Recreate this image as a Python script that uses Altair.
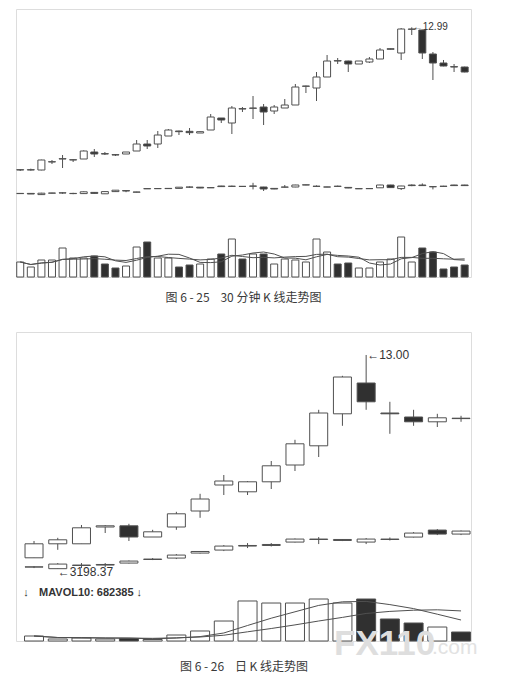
import altair as alt
import pandas as pd

# ---------------- Figure 6-25 : 30-minute K line ----------------
f1_open = [8.71, 8.71, 8.71, 8.95, 9.04, 9.01, 9.04, 9.25, 9.20, 9.17, 9.19, 9.28, 9.49, 9.49, 9.73,
           9.88, 9.87, 9.82, 9.91, 10.27, 10.12, 10.55, 10.56, 10.60, 10.48, 10.57, 10.66, 11.22, 11.17,
           11.50, 11.99, 11.98, 11.89, 11.95, 12.04, 12.33, 12.22, 12.93, 12.91, 12.19, 11.92, 11.81, 11.80]
f1_high = [8.74, 8.75, 9.02, 9.01, 9.16, 9.04, 9.30, 9.34, 9.25, 9.19, 9.25, 9.61, 9.61, 9.88, 9.94,
           9.89, 9.97, 9.87, 10.39, 10.27, 10.63, 10.60, 10.93, 10.69, 10.66, 10.84, 11.29, 11.24, 11.65,
           12.16, 12.07, 11.99, 11.98, 12.10, 12.37, 12.36, 12.97, 12.99, 12.92, 12.25, 12.01, 11.89, 11.81]
f1_low = [8.68, 8.69, 8.70, 8.89, 8.77, 8.95, 9.04, 9.10, 9.16, 9.13, 9.19, 9.28, 9.34, 9.37, 9.73,
          9.76, 9.76, 9.82, 9.91, 10.12, 9.79, 10.45, 10.24, 10.06, 10.39, 10.57, 10.66, 11.02, 10.78,
          11.50, 11.89, 11.65, 11.89, 11.92, 12.04, 12.32, 12.01, 12.76, 12.04, 11.41, 11.82, 11.65, 11.64]
f1_close = [8.72, 8.72, 9.01, 8.96, 9.05, 9.02, 9.28, 9.19, 9.19, 9.16, 9.25, 9.49, 9.43, 9.76, 9.91,
            9.86, 9.83, 9.86, 10.30, 10.21, 10.57, 10.54, 10.57, 10.45, 10.60, 10.66, 11.20, 11.23, 11.50,
            11.98, 11.98, 11.89, 11.98, 12.04, 12.31, 12.35, 12.94, 12.94, 12.22, 11.92, 11.83, 11.80, 11.65]
f1_iopen = [3347, 3348, 3342, 3349, 3350, 3347, 3347, 3353, 3346, 3357, 3362, 3354, 3371, 3372, 3372,
            3373, 3379, 3379, 3376, 3385, 3383, 3383, 3385, 3380, 3373, 3379, 3380, 3390, 3383, 3380,
            3383, 3378, 3371, 3372, 3376, 3390, 3372, 3390, 3390, 3381, 3383, 3390, 3390]
f1_ihigh = [3349, 3349, 3351, 3351, 3354, 3351, 3358, 3354, 3358, 3365, 3362, 3356, 3373, 3373, 3373,
            3380, 3383, 3380, 3377, 3386, 3387, 3384, 3401, 3381, 3374, 3390, 3391, 3392, 3388, 3381,
            3387, 3379, 3372, 3373, 3391, 3391, 3386, 3393, 3398, 3383, 3386, 3391, 3391]
f1_ilow = [3346, 3345, 3341, 3348, 3346, 3344, 3345, 3347, 3345, 3356, 3354, 3353, 3370, 3370, 3370,
           3372, 3376, 3374, 3375, 3381, 3380, 3382, 3368, 3360, 3369, 3377, 3379, 3389, 3380, 3379,
           3380, 3374, 3370, 3370, 3375, 3376, 3365, 3384, 3385, 3368, 3382, 3386, 3386]
f1_iclose = [3348, 3345, 3349, 3350, 3351, 3348, 3356, 3348, 3357, 3364, 3360, 3355, 3372, 3372, 3373,
             3379, 3380, 3375, 3377, 3382, 3384, 3383, 3384, 3370, 3370, 3380, 3390, 3391, 3384, 3380,
             3384, 3375, 3372, 3372, 3390, 3377, 3385, 3387, 3387, 3382, 3384, 3387, 3387]
f1_vol = [15000, 10000, 17000, 17000, 29000, 19000, 19000, 21000, 13000, 9000, 11000, 30000, 35000,
          19000, 19000, 10000, 12000, 13000, 18000, 23000, 38000, 18000, 23000, 23000, 13000, 18000,
          17000, 15000, 38000, 25000, 13000, 14000, 9000, 9000, 15000, 18000, 40000, 15000, 29000,
          25000, 8000, 10000, 12000]

# ---------------- Figure 6-26 : daily K line ----------------
f2_open = [7.93, 8.28, 8.28, 8.70, 8.73, 8.45, 8.70, 9.10, 9.75, 9.58, 9.83, 10.25, 10.73, 11.53,
           12.30, 11.55, 11.45, 11.33, 11.42]
f2_high = [8.35, 8.43, 8.75, 8.75, 8.78, 8.63, 9.08, 9.53, 10.00, 9.85, 10.35, 10.88, 11.63, 12.48,
           13.00, 11.83, 11.63, 11.53, 11.48]
f2_low = [7.93, 8.13, 8.28, 8.55, 8.35, 8.45, 8.63, 8.93, 9.50, 9.50, 9.65, 10.10, 10.45, 11.23,
          11.63, 11.03, 11.23, 11.20, 11.33]
f2_close = [8.28, 8.38, 8.68, 8.73, 8.45, 8.58, 9.03, 9.40, 9.85, 9.83, 10.23, 10.78, 11.55, 12.45,
            11.83, 11.53, 11.33, 11.43, 11.41]
f2_iopen = [3208, 3200, 3216, 3218, 3228, 3246, 3253, 3278, 3293, 3313, 3316, 3333, 3346, 3341, 3333,
            3346, 3358, 3393, 3373]
f2_ihigh = [3213, 3228, 3228, 3228, 3241, 3253, 3273, 3288, 3318, 3328, 3328, 3351, 3358, 3348, 3353,
            3356, 3383, 3398, 3391]
f2_ilow = [3203, 3198.37, 3203, 3208, 3226, 3243, 3248, 3276, 3288, 3303, 3311, 3331, 3323, 3338, 3323,
           3341, 3356, 3368, 3368]
f2_iclose = [3209, 3223, 3218, 3221, 3238, 3248, 3268, 3286, 3313, 3316, 3321, 3348, 3348, 3346, 3348,
             3348, 3378, 3373, 3388]
f2_vol = [113000, 45000, 68000, 45000, 57000, 34000, 136000, 227000, 453000, 907000, 861000, 861000,
          952000, 861000, 952000, 499000, 408000, 317000, 204000]

NB = "\u00a0"
caption1 = "图 6 - 25" + NB * 4 + "30 分钟 K 线走势图"
caption2 = "图 6 - 26" + NB * 4 + "日 K 线走势图"
mavol_text = "MAVOL10: 682385 ↓"
watermark = ["FX110", ".com"]

INK = "#505050"
DARK = "#303030"
FONT = "Liberation Sans"
CJK = "Noto Sans CJK SC"


def frame(o, h, l, c, io, ih, il, ic, v):
    return pd.DataFrame({"idx": list(range(len(o))), "open": o, "high": h, "low": l, "close": c,
                         "iopen": io, "ihigh": ih, "ilow": il, "iclose": ic, "vol": v})


def panel(df, xdom, pdom, idom, vdom, w, h, bw, vw, lab, title=None, toff=0, extras=()):
    base = alt.Chart(df)
    X = alt.X("idx:Q", scale=alt.Scale(domain=xdom, nice=False, zero=False, padding=0), axis=None)

    def Y(field, dom):
        return alt.Y(field, scale=alt.Scale(domain=dom, nice=False, zero=False), axis=None)

    fill = alt.when("datum.close < datum.open").then(alt.value(DARK)).otherwise(alt.value("white"))
    ifill = alt.when("datum.iclose < datum.iopen").then(alt.value(DARK)).otherwise(alt.value("white"))

    wick = base.mark_rule(color=INK, strokeWidth=1).encode(x=X, y=Y("low:Q", pdom), y2="high:Q")
    body = base.mark_bar(size=bw, stroke=INK, strokeWidth=1).encode(
        x=X, y=Y("open:Q", pdom), y2="close:Q", fill=fill)
    iwick = base.mark_rule(color=INK, strokeWidth=1).encode(x=X, y=Y("ilow:Q", idom), y2="ihigh:Q")
    ibody = base.mark_bar(size=bw, stroke=INK, strokeWidth=1).encode(
        x=X, y=Y("iopen:Q", idom), y2="iclose:Q", fill=ifill)
    vol = base.mark_bar(size=vw, stroke=INK, strokeWidth=1).encode(
        x=X, y=Y("vol:Q", vdom), fill=fill)
    ma5 = base.transform_window(ma5="mean(vol)", frame=[-4, 0], sort=[alt.SortField("idx")]).mark_line(
        color=INK, strokeWidth=1).encode(x=X, y=Y("ma5:Q", vdom))
    ma10 = base.transform_window(ma10="mean(vol)", frame=[-9, 0], sort=[alt.SortField("idx")]).mark_line(
        color=INK, strokeWidth=1).encode(x=X, y=Y("ma10:Q", vdom))
    hi = base.transform_joinaggregate(mx="max(high)").transform_filter(
        "datum.high == datum.mx").transform_calculate(
        lbl="'←' + format(datum.high, '.2f')").mark_text(
        align="left", baseline="middle", dx=1, font=FONT, fontSize=lab, color="#333").encode(
        x=X, y=Y("high:Q", pdom), text="lbl:N")
    layers = [vol, ma5, ma10, iwick, ibody, wick, body, hi] + list(extras)
    if extras:
        lo = base.transform_joinaggregate(mn="min(ilow)").transform_filter(
            "datum.ilow == datum.mn").transform_calculate(
            lbl="'←' + format(datum.ilow, '.2f')").mark_text(
            align="left", baseline="middle", dx=0, dy=3, font=FONT, fontSize=lab, color="#333").encode(
            x=X, y=Y("ilow:Q", idom), text="lbl:N")
        layers.append(lo)
    props = dict(width=w, height=h)
    if title:
        props["title"] = alt.Title(title, orient="bottom", anchor="middle", frame="group", offset=toff,
                                   font=CJK, fontSize=12, fontWeight="normal", color="#3a3a3a")
    return alt.layer(*layers).resolve_scale(y="independent").properties(**props)


df1 = frame(f1_open, f1_high, f1_low, f1_close, f1_iopen, f1_ihigh, f1_ilow, f1_iclose, f1_vol)
df2 = frame(f2_open, f2_high, f2_low, f2_close, f2_iopen, f2_ihigh, f2_ilow, f2_iclose, f2_vol)


def label(text, x, y, **kw):
    return alt.Chart(pd.DataFrame({"t": [text]})).mark_text(**kw).encode(
        x=alt.value(x), y=alt.value(y), text="t:N")


arrow = label("↓", 10, 261, align="center", baseline="middle", font=FONT, fontSize=11,
              fontWeight="bold", color="#333")
mavol = label(mavol_text, 23, 261, align="left", baseline="middle", font=FONT, fontSize=11,
              fontWeight="bold", color="#333")
wm1 = label(watermark[0], 318, 323, align="left", baseline="alphabetic", font=FONT, fontSize=35,
            fontWeight="bold", color="#dedede")
wm2 = label(watermark[1], 416, 322, align="left", baseline="alphabetic", font=FONT, fontSize=21,
            color="#e2e2e2")
cap2 = label(caption2, 228, 335, align="center", baseline="middle", font=CJK, fontSize=12,
             color="#3a3a3a")

fig1 = panel(df1, [-0.4, 42.6], [5.50, 13.54], [2930, 4270], [0, 268000], 455, 268, 7, 7, 10,
             caption1, 15)
fig2 = panel(df2, [-0.76, 18.42], [5.85, 13.575], [2838.37, 4383.37], [0, 7005000], 455, 309, 18, 19, 12,
             extras=(arrow, mavol, wm1, wm2, cap2))

chart = alt.vconcat(fig1, fig2, spacing=27).properties(
    padding={"left": 7, "top": 0, "right": 5, "bottom": 5}
).configure_view(stroke="#555", strokeWidth=1).configure(background="white")

chart.save("out.html", embed_options={"renderer": "svg", "actions": False})
